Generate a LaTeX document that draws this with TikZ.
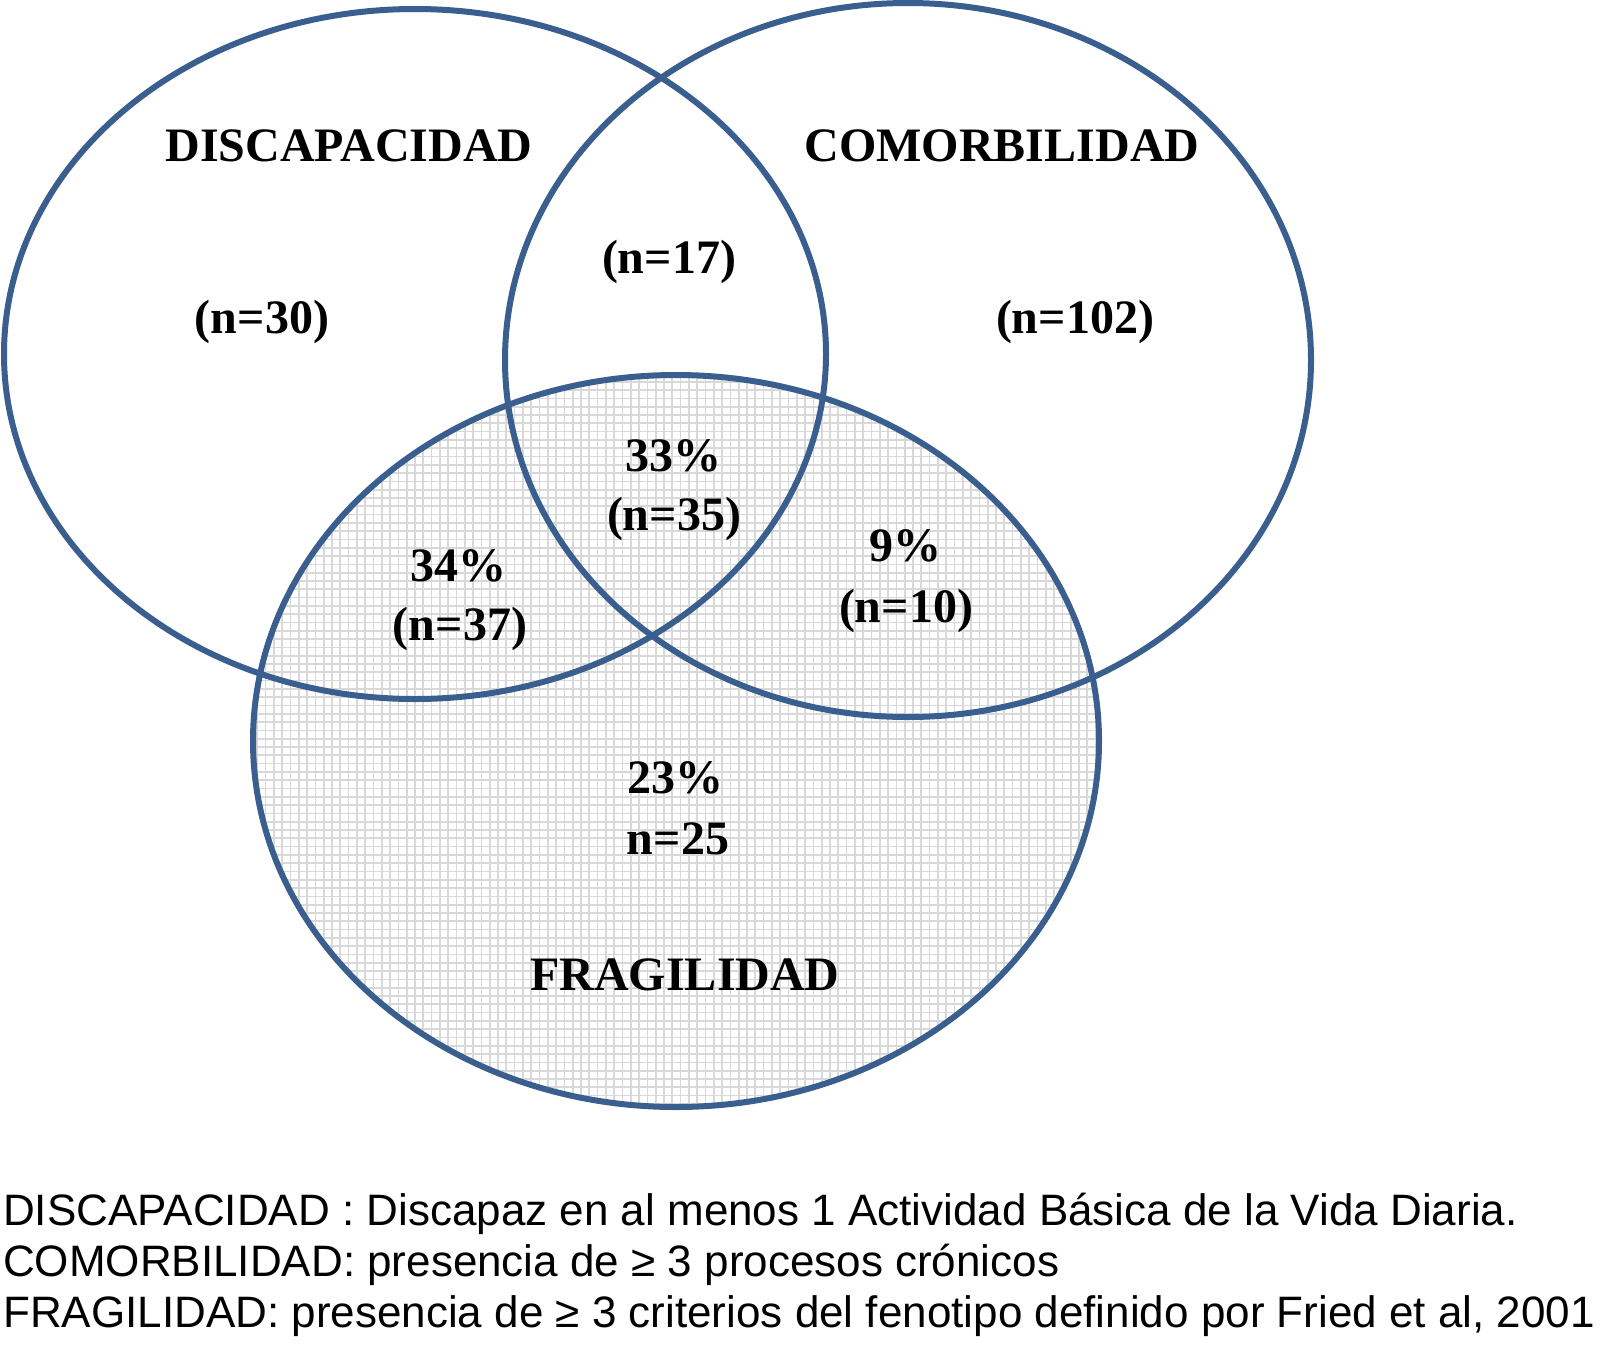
\documentclass[tikz,border=0pt]{standalone}
\usepackage{fontspec}
\setmainfont{Liberation Serif}
\newfontfamily\legendfont{Liberation Sans}
\usetikzlibrary{positioning}
\definecolor{vennblue}{RGB}{58,95,143}
\definecolor{gridgray}{RGB}{216,216,216}

\begin{document}
\begin{tikzpicture}[x=1pt,y=-1pt,
  vennline/.style={draw=vennblue,line width=6pt},
  setlabel/.style={font=\fontsize{48}{58}\selectfont\bfseries,anchor=base},
  countlabel/.style={font=\fontsize{48}{58}\selectfont\bfseries,anchor=base},
  legendline/.style={font=\legendfont\fontsize{44}{51}\selectfont,anchor=base west,inner sep=0pt}]
\useasboundingbox (0,0) rectangle (1613,1344);
% set centres
\coordinate (dis) at (415,354);
\coordinate (com) at (908,360);
\coordinate (fra) at (676,741);
% grid fill of fragility
\begin{scope}
  \clip (fra) ellipse [x radius=423, y radius=366];
  \draw[gridgray,line width=1.7pt] (250,370) grid[step=8.3pt] (1105,1112);
\end{scope}
% outlines
\draw[vennline] (dis) ellipse [x radius=411, y radius=345];
\draw[vennline] (com) ellipse [x radius=403, y radius=357];
\draw[vennline] (fra) ellipse [x radius=423, y radius=366];
% set names
\node[setlabel] (disname) at (349,161) {DISCAPACIDAD};
\node[setlabel] (comname) at (1002,161) {COMORBILIDAD};
\node[setlabel] (franame) at (685,990) {FRAGILIDAD};
% counts
\node[countlabel] (nd) at (262,333) {(n=30)};
\node[countlabel] (ndc) at (669,273) {(n=17)};
\node[countlabel] (nc) at (1075,333) {(n=102)};
\node[countlabel] (pdcf) at (673,471) {33\%};
\node[countlabel] (ndcf) at (674,530) {(n=35)};
\node[countlabel] (pdf) at (458,581) {34\%};
\node[countlabel] (ndf) at (460,640) {(n=37)};
\node[countlabel] (pcf) at (905,561) {9\%};
\node[countlabel] (ncf) at (906,622) {(n=10)};
\node[countlabel] (pf) at (675,793) {23\%};
\node[countlabel] (nf) at (678,854) {n=25};
% legend
\node[legendline] (legd) at (3,1225) {DISCAPACIDAD : Discapaz en al menos 1 Actividad Básica de la Vida Diaria.};
\node[legendline] (legc) at (3,1276) {COMORBILIDAD: presencia de ≥ 3 procesos crónicos};
\node[legendline] (legf) at (3,1327) {FRAGILIDAD: presencia de ≥ 3 criterios del fenotipo definido por Fried et al, 2001};
\end{tikzpicture}
\end{document}
